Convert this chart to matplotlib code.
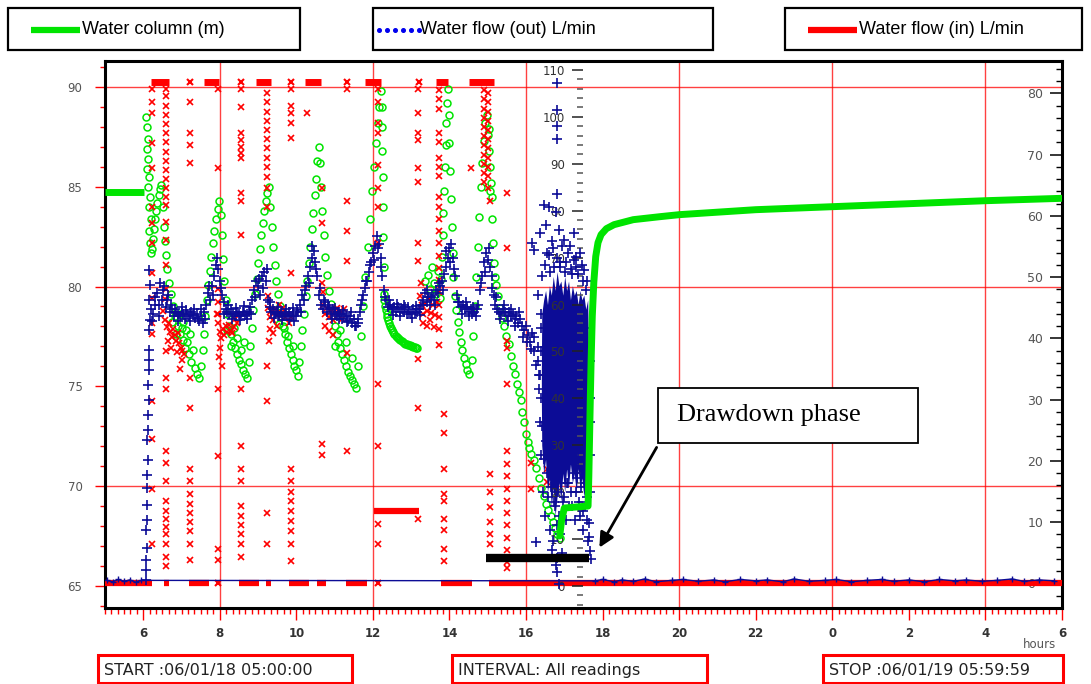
import matplotlib
matplotlib.use("Agg")
import matplotlib.pyplot as plt
from matplotlib.lines import Line2D
from matplotlib.patches import Rectangle, FancyArrowPatch
from matplotlib.ticker import MultipleLocator, FuncFormatter

# --- logger readings, 06/01/18 05:00 to 06/01/19 06:00 (hours since midnight) ---

# water column (m), left scale
wc_flat_h = [5.0, 6.02]
wc_flat_v = [84.75, 84.75]

wc_pts = [
    (6.08, 88.5), (6.10, 88.0), (6.12, 87.4), (6.10, 86.9), (6.13, 86.4), (6.09, 85.9), (6.15, 85.5),
    (6.12, 85.0), (6.17, 84.5), (6.14, 84.0), (6.19, 83.4), (6.16, 82.8), (6.18, 82.2), (6.20, 81.7),
    (6.22, 81.9), (6.25, 82.4), (6.28, 82.9), (6.31, 83.4), (6.34, 83.8), (6.37, 84.2), (6.40, 84.6),
    (6.43, 84.9), (6.46, 85.1), (6.52, 84.0), (6.55, 83.0), (6.57, 82.3), (6.60, 81.6), (6.63, 80.9),
    (6.67, 80.2), (6.72, 79.6), (6.78, 79.0), (6.84, 78.5), (6.90, 78.0), (6.95, 77.6), (7.00, 77.9),
    (7.05, 77.3), (7.10, 76.9), (7.15, 77.2), (7.20, 76.6), (7.25, 76.2), (7.30, 76.8), (7.35, 75.9),
    (7.40, 75.6), (7.45, 75.4), (6.75, 78.2), (6.85, 77.6), (6.95, 78.6), (7.05, 78.2), (7.12, 77.8),
    (7.22, 77.6), (7.50, 76.0), (7.55, 76.8), (7.58, 77.6), (7.62, 78.5), (7.66, 79.3), (7.70, 80.1),
    (7.74, 80.8), (7.78, 81.5), (7.82, 82.2), (7.86, 82.8), (7.90, 83.4), (7.94, 83.9), (7.97, 84.3),
    (8.02, 83.6), (8.05, 82.6), (8.08, 81.4), (8.12, 80.3), (8.16, 79.3), (8.20, 78.6), (8.25, 78.0),
    (8.30, 77.6), (8.35, 77.2), (8.40, 76.9), (8.45, 76.6), (8.50, 76.3), (8.55, 76.1), (8.60, 75.8),
    (8.65, 75.6), (8.70, 75.4), (8.28, 77.0), (8.38, 77.9), (8.45, 77.4), (8.55, 76.8), (8.62, 77.2),
    (8.18, 77.8), (8.75, 76.2), (8.80, 77.0), (8.84, 77.9), (8.88, 78.8), (8.92, 79.6), (8.96, 80.4),
    (9.00, 81.2), (9.04, 81.9), (9.08, 82.6), (9.12, 83.2), (9.16, 83.8), (9.20, 84.3), (9.24, 84.7),
    (9.28, 85.0), (9.32, 84.0), (9.36, 83.0), (9.40, 82.0), (9.44, 81.1), (9.48, 80.3), (9.52, 79.6),
    (9.56, 79.0), (9.60, 78.5), (9.65, 78.0), (9.70, 77.6), (9.75, 77.2), (9.80, 76.9), (9.85, 76.6),
    (9.90, 76.3), (9.95, 76.0), (10.00, 75.8), (10.04, 75.5), (9.55, 78.1), (9.68, 77.9), (9.78, 77.5),
    (9.90, 77.0), (10.08, 76.2), (10.12, 77.0), (10.16, 77.8), (10.20, 78.6), (10.24, 79.5), (10.28, 80.3),
    (10.32, 81.2), (10.36, 82.0), (10.40, 82.9), (10.44, 83.7), (10.48, 84.6), (10.52, 85.4), (10.55, 86.3),
    (10.58, 87.0), (10.62, 86.2), (10.65, 85.0), (10.68, 83.8), (10.72, 82.6), (10.76, 81.5), (10.80, 80.6),
    (10.85, 79.8), (10.90, 79.1), (10.95, 78.5), (11.00, 78.0), (11.05, 77.6), (11.10, 77.2), (11.15, 76.9),
    (11.20, 76.6), (11.25, 76.3), (11.30, 76.0), (11.35, 75.7), (11.40, 75.5), (11.45, 75.3), (11.50, 75.1),
    (11.55, 74.9), (11.00, 77.0), (11.15, 77.8), (11.30, 77.2), (11.45, 76.4), (11.62, 76.0), (11.68, 77.5),
    (11.74, 79.0), (11.80, 80.5), (11.86, 82.0), (11.92, 83.4), (11.98, 84.8), (12.03, 86.0), (12.08, 87.2),
    (12.12, 88.2), (12.16, 89.0), (12.20, 89.8), (12.23, 89.0), (12.24, 88.0), (12.25, 86.8), (12.26, 85.5),
    (12.27, 84.0), (12.27, 82.5), (12.28, 81.0),
    (12.28, 79.6), (12.30, 79.3), (12.32, 79.0), (12.34, 78.8), (12.36, 78.6), (12.38, 78.45), (12.40, 78.3),
    (12.42, 78.15), (12.45, 78.0), (12.47, 77.9), (12.50, 77.8), (12.53, 77.7), (12.56, 77.6), (12.59, 77.52),
    (12.62, 77.45), (12.65, 77.4), (12.68, 77.35), (12.71, 77.3), (12.75, 77.25), (12.78, 77.2), (12.82, 77.17),
    (12.85, 77.13), (12.89, 77.1), (12.92, 77.08), (12.96, 77.05), (12.99, 77.02), (13.03, 77.0), (13.06, 76.98),
    (13.10, 76.96), (13.13, 76.94), (13.16, 76.93),
    (13.35, 80.3), (13.45, 80.6), (13.50, 79.9), (13.55, 81.0), (13.60, 80.2), (13.65, 79.6), (13.70, 80.8),
    (13.75, 79.4), (13.78, 80.4), (13.80, 81.5), (13.82, 82.6), (13.84, 83.7), (13.86, 84.8), (13.88, 86.0),
    (13.90, 87.1), (13.92, 88.2), (13.94, 89.2), (13.96, 89.9), (13.98, 88.6), (14.00, 87.2), (14.02, 85.8),
    (14.04, 84.4), (14.06, 83.0), (14.08, 81.7), (14.10, 80.5), (14.14, 79.5), (14.18, 78.8), (14.22, 78.2),
    (14.26, 77.7), (14.30, 77.2), (14.34, 76.8), (14.38, 76.4), (14.42, 76.1), (14.46, 75.8), (14.50, 75.6),
    (14.58, 76.3), (14.62, 77.5), (14.66, 79.0), (14.70, 80.5), (14.74, 82.0), (14.78, 83.5), (14.82, 85.0),
    (14.86, 86.2), (14.90, 87.3), (14.94, 88.2), (14.98, 88.6), (15.00, 87.6), (15.02, 86.8), (15.04, 87.9),
    (15.06, 86.0), (15.08, 85.2), (15.10, 84.5), (15.05, 84.8), (15.12, 83.4), (15.14, 82.2), (15.16, 81.2),
    (15.18, 80.5), (15.21, 80.1), (15.26, 79.5), (15.31, 78.9), (15.36, 78.4), (15.42, 78.0), (15.48, 77.5),
    (15.55, 77.1), (15.60, 76.5), (15.65, 76.0), (15.70, 75.6), (15.76, 75.1), (15.81, 74.7), (15.86, 74.3),
    (15.90, 73.7), (15.94, 73.2), (15.99, 72.6), (16.04, 72.2), (16.09, 71.9), (16.14, 71.6), (16.20, 71.3),
    (16.26, 70.9), (16.33, 70.4), (16.40, 69.9), (16.46, 69.5), (16.52, 69.1), (16.58, 68.8), (16.64, 68.5),
    (16.70, 68.2), (16.76, 67.9), (16.82, 67.6), (16.88, 67.4),
]

# continuous record once the pump stops (recovery)
wc_recov_h = [16.88, 16.93, 17.00, 17.30, 17.62, 17.64, 17.66, 17.68, 17.70, 17.73, 17.77, 17.82,
              17.88, 17.96, 18.10, 18.30, 18.80, 19.50, 20.00, 22.00, 24.00, 26.00, 28.00, 30.00]
wc_recov_v = [67.5, 68.3, 68.9, 68.95, 69.0, 70.5, 72.5, 74.5, 76.3, 78.5, 80.2, 81.5,
              82.2, 82.6, 82.9, 83.1, 83.35, 83.5, 83.6, 83.85, 84.0, 84.15, 84.3, 84.42]

# water flow out (L/min), middle scale
fo_base = [
    (6.20, 59.0), (6.25, 58.0), (6.30, 60.0), (6.35, 62.5), (6.40, 60.0), (6.45, 64.5), (6.50, 61.0),
    (6.55, 64.0), (6.60, 59.5), (6.65, 62.0), (6.70, 58.5), (6.75, 59.0), (6.80, 57.5), (6.85, 58.5),
    (6.90, 58.0), (6.95, 57.5), (7.00, 58.5), (7.05, 58.0), (7.10, 57.0), (7.15, 58.0), (7.20, 57.5),
    (7.25, 58.5), (7.30, 57.8), (7.35, 57.2), (7.40, 58.0), (7.45, 56.5), (7.50, 57.5), (7.55, 56.0),
    (7.60, 58.5), (7.65, 60.0), (7.70, 62.5), (7.75, 61.0), (7.80, 64.0), (7.85, 66.0), (7.90, 68.5),
    (7.95, 67.5), (8.00, 65.0), (8.05, 62.0), (8.10, 60.5), (8.15, 59.0), (8.20, 58.5), (8.25, 58.0),
    (8.30, 59.0), (8.35, 58.0), (8.40, 57.5), (8.45, 58.5), (8.50, 58.0), (8.55, 57.5), (8.60, 58.5),
    (8.65, 57.8), (8.70, 57.0), (8.75, 58.5), (8.80, 59.5), (8.85, 61.0), (8.90, 63.0), (8.95, 65.0),
    (9.00, 64.0), (9.05, 62.0), (9.10, 66.0), (9.15, 67.0), (9.20, 65.0), (9.25, 61.0), (9.30, 59.5),
    (9.35, 58.5), (9.40, 59.0), (9.45, 58.0), (9.50, 58.5), (9.55, 57.5), (9.60, 58.2), (9.65, 57.5),
    (9.70, 58.0), (9.75, 57.5), (9.80, 58.3), (9.85, 57.5), (9.90, 58.0), (9.95, 56.5), (10.00, 57.5),
    (10.05, 58.5), (10.10, 60.0), (10.15, 62.0), (10.20, 61.0), (10.25, 64.0), (10.30, 66.0), (10.35, 68.0),
    (10.40, 70.0), (10.45, 71.5), (10.50, 69.0), (10.55, 66.0), (10.60, 62.0), (10.65, 60.0), (10.70, 59.0),
    (10.75, 60.5), (10.80, 58.5), (10.85, 59.5), (10.90, 58.0), (10.95, 59.0), (11.00, 58.0), (11.05, 57.5),
    (11.10, 58.5), (11.15, 58.0), (11.20, 57.0), (11.25, 58.0), (11.30, 57.5), (11.35, 56.5), (11.40, 57.5),
    (11.45, 56.0), (11.50, 57.0), (11.55, 55.5), (11.60, 57.0), (11.65, 58.5), (11.70, 60.0), (11.75, 62.0),
    (11.80, 63.5), (11.85, 65.0), (11.90, 67.0), (11.95, 69.0), (12.00, 71.0), (12.05, 72.5), (12.10, 74.5),
    (12.15, 73.0), (12.20, 70.0), (12.25, 66.0), (12.30, 63.0), (12.35, 61.0), (12.40, 59.5), (12.45, 60.0),
    (12.50, 59.0), (12.55, 59.5), (12.60, 58.5), (12.65, 59.5), (12.70, 58.5), (12.75, 59.0), (12.80, 58.5),
    (12.85, 59.5), (12.90, 58.0), (12.95, 58.5), (13.00, 58.0), (13.05, 59.0), (13.10, 58.2), (13.15, 58.5),
    (13.20, 59.0), (13.25, 60.0), (13.30, 61.0), (13.35, 62.5), (13.40, 60.5), (13.45, 61.5), (13.50, 60.0),
    (13.55, 62.0), (13.60, 61.0), (13.65, 63.0), (13.70, 62.5), (13.75, 64.0), (13.80, 65.0), (13.85, 66.5),
    (13.90, 68.0), (13.95, 70.0), (14.00, 72.0), (14.05, 73.0), (14.10, 70.0), (14.15, 66.0), (14.20, 62.0),
    (14.25, 60.5), (14.30, 59.5), (14.35, 60.0), (14.40, 59.0), (14.45, 59.5), (14.50, 58.5), (14.55, 59.0),
    (14.60, 58.0), (14.65, 58.5), (14.70, 57.5), (14.75, 60.0), (14.80, 63.0), (14.85, 66.0), (14.90, 69.0),
    (14.95, 71.0), (15.00, 69.5), (15.05, 68.0), (15.10, 66.0), (15.15, 62.0), (15.20, 60.0), (15.25, 59.0),
    (15.30, 58.5), (15.35, 58.0), (15.40, 59.0), (15.45, 58.5), (15.50, 57.5), (15.55, 58.5), (15.60, 57.5),
    (15.65, 58.0), (15.70, 57.0), (15.75, 57.5), (15.80, 56.0), (15.85, 57.0), (15.90, 55.5), (15.95, 54.5),
    (16.00, 55.5), (16.05, 53.5), (16.10, 52.0), (16.15, 54.0), (16.20, 50.0), (16.25, 47.0), (16.30, 51.0),
    (16.35, 45.0),
    (6.22, 56.5), (6.32, 61.5), (6.42, 57.5), (6.52, 63.0), (6.62, 61.0), (6.72, 60.0), (6.82, 59.0),
    (6.92, 56.5), (7.02, 59.5), (7.12, 58.8), (7.22, 56.5), (7.32, 59.0), (7.42, 57.0), (7.52, 59.0),
    (7.62, 57.0), (7.72, 64.0), (7.82, 62.0), (7.92, 70.0), (8.02, 63.5), (8.12, 58.0), (8.22, 59.8),
    (8.32, 57.0), (8.42, 59.2), (8.52, 56.8), (8.62, 59.6), (8.72, 58.0), (8.82, 58.0), (8.92, 61.5),
    (9.02, 65.5), (9.12, 63.5), (9.22, 67.5), (9.32, 60.5), (9.42, 57.2), (9.52, 59.5), (9.62, 56.8),
    (9.72, 59.0), (9.82, 56.8), (9.92, 59.2), (10.02, 58.8), (10.12, 58.5), (10.22, 63.0), (10.32, 64.5),
    (10.42, 72.5), (10.52, 67.5), (10.62, 63.5), (10.72, 61.0), (10.82, 60.0), (10.92, 57.0), (11.02, 59.2),
    (11.12, 57.0), (11.22, 58.8), (11.32, 56.2), (11.42, 58.5), (11.52, 55.5), (11.62, 56.0), (11.72, 61.0),
    (11.82, 65.0), (11.92, 68.5), (12.02, 69.5), (12.12, 72.0), (12.22, 68.0), (12.32, 61.5), (12.42, 61.0),
    (12.52, 57.8), (12.62, 60.2), (12.72, 57.6), (12.82, 60.0), (12.92, 59.5), (13.02, 57.2), (13.12, 59.6),
    (13.22, 57.8), (13.32, 59.8), (13.42, 63.0), (13.52, 61.5), (13.62, 59.8), (13.72, 64.5), (13.82, 63.0),
    (13.92, 71.5), (14.02, 69.0), (14.12, 67.5), (14.22, 60.5), (14.32, 58.0), (14.42, 60.5), (14.52, 57.5),
    (14.62, 59.5), (14.72, 59.0), (14.82, 64.5), (14.92, 67.0), (15.02, 72.0), (15.12, 63.5), (15.22, 61.5),
    (15.32, 57.0), (15.42, 60.0), (15.52, 56.5), (15.62, 59.0), (15.72, 55.5), (15.82, 58.5), (15.92, 53.0),
    (16.02, 52.0), (16.12, 50.5), (16.22, 53.0), (16.32, 48.0),
]

# pump start-up column
fo_start = [
    (6.06, 1.3), (6.08, 3.4), (6.07, 5.5), (6.09, 8.1), (6.08, 11.9), (6.10, 14.1), (6.09, 17.3),
    (6.11, 20.9), (6.10, 23.7), (6.12, 26.9), (6.11, 31.1), (6.13, 33.3), (6.12, 36.5), (6.14, 39.7),
    (6.13, 42.9), (6.15, 46.0), (6.14, 48.2), (6.16, 50.3), (6.15, 54.6), (6.17, 56.7), (6.16, 61.0),
    (6.18, 64.2), (6.15, 67.4),
]

# drawdown pumping: dense band plus the readings around it
fo_band_h = [16.40, 16.41, 16.46, 16.51, 16.56, 16.61, 16.66, 16.71, 16.76, 16.81, 16.86, 16.91, 16.96, 17.01,
             17.06, 17.11, 17.16, 17.21, 17.26, 17.31, 17.36, 17.41, 17.46, 17.51, 17.56, 17.61, 17.63]
fo_band_hi = [46, 58, 61, 63, 60, 64, 62, 66, 63, 67, 64, 65, 62, 66,
              63, 65, 61, 64, 62, 63, 60, 63, 61, 62, 59, 61, 50]
fo_band_lo = [40, 30, 24, 27, 20, 23, 17, 21, 15, 19, 22, 18, 24, 20,
              25, 21, 26, 22, 24, 20, 25, 21, 23, 19, 22, 26, 32]

fo_drawdown = [
    (16.42, 66.0), (16.46, 81.2), (16.50, 68.5), (16.52, 77.0), (16.55, 71.0), (16.59, 80.8), (16.60, 70.5),
    (16.63, 67.0), (16.67, 73.5), (16.70, 72.0), (16.73, 68.0), (16.77, 79.7), (16.80, 83.6), (16.80, 95.3),
    (16.80, 98.1), (16.80, 101.5), (16.80, 107.2), (16.82, 70.0), (16.85, 75.9), (16.88, 69.0), (16.90, 68.0),
    (16.93, 72.5), (16.98, 73.8), (17.02, 67.0), (17.05, 69.0), (17.10, 71.0), (17.15, 72.5), (17.18, 67.5),
    (17.20, 66.5), (17.24, 69.5), (17.26, 75.3), (17.30, 68.0), (17.31, 70.1), (17.36, 66.5), (17.40, 71.0),
    (17.45, 68.5), (17.50, 65.0), (17.52, 67.4), (17.56, 63.0), (17.60, 65.0), (16.15, 73.1), (16.20, 71.6),
    (16.36, 75.3), (16.30, 62.0), (16.38, 58.0),
    (16.38, 40.0), (16.36, 35.0), (16.40, 28.0), (16.33, 42.0), (16.38, 50.0), (16.37, 45.0), (16.39, 55.0),
    (17.66, 55.0), (17.67, 48.0), (17.66, 40.0), (17.68, 35.0), (17.66, 28.0), (17.67, 20.0),
    (16.42, 34.0), (16.45, 20.0), (16.47, 27.0), (16.50, 15.0), (16.52, 31.0), (16.55, 24.0), (16.57, 19.0),
    (16.60, 29.0), (16.62, 12.0), (16.65, 21.0), (16.68, 26.0), (16.70, 9.5), (16.72, 18.0), (16.75, 17.0),
    (16.77, 23.0), (16.78, 4.5), (16.80, 6.0), (16.80, 13.0), (16.82, 3.0), (16.83, 20.0), (16.85, 0.5),
    (16.87, 15.0), (16.90, 11.0), (16.92, 24.0), (16.95, 7.0), (16.97, 18.0), (17.00, 19.0), (17.02, 25.0),
    (17.05, 14.0), (17.08, 22.0), (17.10, 22.0), (17.12, 17.0), (17.15, 28.0), (17.18, 20.0), (17.20, 17.0),
    (17.23, 24.0), (17.25, 26.0), (17.28, 14.0), (17.30, 20.0), (17.33, 23.0), (17.35, 27.0), (17.38, 18.0),
    (17.40, 15.0), (17.43, 21.0), (17.45, 24.0), (17.48, 16.0), (17.50, 12.0), (17.53, 22.0), (17.55, 17.0),
    (17.58, 19.0), (17.60, 14.0), (17.62, 9.5), (17.64, 13.4), (17.64, 10.4), (17.66, 7.5), (17.69, 5.8),
    (16.25, 9.4), (16.67, 7.7),
]

# pump idle readings near zero
fo_idle = [
    (5.05, 1.2), (5.20, 0.9), (5.35, 1.4), (5.50, 1.0), (5.65, 1.3), (5.80, 0.8), (5.95, 1.2),
    (17.80, 1.1), (18.00, 1.4), (18.30, 0.9), (18.50, 1.3), (18.80, 1.0), (19.10, 1.5), (19.40, 0.9),
    (19.80, 1.2), (20.10, 1.4), (20.50, 1.0), (20.90, 1.3), (21.20, 0.9), (21.60, 1.4), (22.00, 1.1),
    (22.30, 1.3), (22.70, 0.9), (23.00, 1.5), (23.40, 1.0), (23.80, 1.2), (24.10, 1.4), (24.50, 0.9),
    (24.90, 1.2), (25.30, 1.4), (25.60, 1.0), (26.00, 1.3), (26.40, 0.9), (26.80, 1.4), (27.20, 1.1),
    (27.50, 1.3), (27.90, 1.0), (28.30, 1.2), (28.70, 1.5), (29.00, 1.0), (29.40, 1.3), (29.80, 1.1),
]

# water flow in (L/min), right scale
fi_on_level = 81.8
fi_on_runs = [(6.20, 6.67), (7.60, 7.98), (8.94, 9.33), (10.22, 10.64), (11.79, 12.20), (13.64, 13.96), (14.50, 15.15)]
fi_on_single = [7.22, 8.55, 9.86, 11.32, 13.20]
fi_off_runs = [(5.0, 6.23), (6.54, 6.67), (7.20, 7.72), (8.50, 9.02), (9.20, 9.33), (9.80, 10.33),
               (10.54, 10.77), (11.29, 11.84), (13.77, 14.58), (15.03, 30.0)]
fi_off_single = [7.95, 12.12]
fi_mid_run = (12.02, 13.20)
fi_mid_level = 11.8

fi_columns = [
    (6.23, [80.7, 78.6, 76.8, 71.9, 67.8, 61.4, 58.8, 55.6, 50.6, 46.6, 42.5, 40.7, 29.8, 23.6, 15.4, 6.5]),
    (6.60, [80.7, 79.5, 78.0, 76.5, 75.0, 73.5, 72.0, 70.5, 69.0, 67.5, 66.0, 64.5, 63.0, 61.7, 59.0, 56.0,
            52.0, 48.0, 38.0, 33.6, 31.8, 21.6, 19.6, 16.7, 13.4, 11.8, 10.5, 9.2, 8.0, 6.4, 4.4, 2.8]),
    (7.22, [78.6, 73.6, 71.5, 68.7, 33.6, 28.6, 18.7, 16.7, 14.6, 13.0, 11.5, 10.0, 8.5, 6.4, 3.9]),
    (7.95, [80.7, 67.8, 48.0, 46.0, 44.0, 31.8, 20.8, 5.6, 3.9]),
    (8.56, [80.7, 77.7, 73.6, 72.3, 71.2, 70.2, 69.4, 63.8, 62.5, 56.8, 31.8, 22.4, 18.7, 16.7, 12.6, 11.0,
            9.5, 8.0, 6.4, 4.4]),
    (9.23, [80.0, 78.5, 77.0, 75.5, 74.0, 72.5, 71.0, 69.5, 68.0, 66.3, 64.6, 61.4, 35.5, 29.8, 11.5, 6.5]),
    (9.87, [80.7, 78.0, 76.8, 75.2, 72.7, 50.6, 18.7, 16.7, 15.0, 13.4, 11.8, 10.2, 8.5, 6.4, 3.6]),
    (10.27, [76.8]),
    (10.66, [64.6, 58.8, 22.7, 21.0]),
    (11.32, [80.7, 62.5, 57.6, 52.7, 37.6, 21.6]),
    (12.13, [80.7, 78.6, 75.2, 73.6, 68.3, 64.6, 61.4, 55.6, 32.6, 22.4, 9.7, 6.5]),
    (13.17, [80.7, 76.8, 73.6, 72.3, 67.8, 65.5, 55.6, 52.7, 36.7, 28.6, 10.6]),
    (13.72, [80.5, 79.0, 77.5, 73.5, 72.0, 69.5, 68.0, 66.5, 63.0, 61.5, 59.5, 57.5, 55.5, 53.5, 51.5, 49.5,
             47.5, 45.5, 43.5, 41.5, 39.0]),
    (13.85, [27.7, 24.5, 18.7, 14.6, 13.4, 10.6, 8.8, 5.6, 3.6]),
    (14.90, [80.5, 79.0, 77.5, 76.0, 74.5, 73.0, 71.5, 70.0, 68.5, 67.0, 65.5]),
    (15.00, [80.0, 78.5, 77.0, 75.5, 74.0, 72.5, 71.0, 69.5, 68.0, 66.5, 64.6]),
    (15.06, [62.5, 17.8, 15.0, 12.5, 10.0, 8.0, 6.4]),
    (15.50, [63.7, 54.7, 39.6, 38.5, 32.6, 21.6, 19.5, 17.5, 15.5, 13.5, 11.5, 9.5, 7.5, 5.5, 3.5, 2.5]),
    (14.55, [67.8]),
    (16.12, [19.6, 15.5]),
    (16.54, [18.7, 16.5]),
]

fi_clusters = [
    (6.52, 44.5), (6.58, 43.0), (6.62, 41.8), (6.66, 42.5), (6.70, 41.0), (6.74, 40.2), (6.78, 41.5),
    (6.82, 40.5), (6.86, 39.5), (6.90, 40.8), (6.94, 39.2), (6.98, 38.5), (7.02, 38.0), (7.06, 37.5),
    (6.64, 39.5), (6.72, 38.5), (6.88, 37.8), (6.56, 46.5), (7.00, 36.5), (6.95, 35.0),
    (7.92, 44.0), (7.96, 42.5), (8.00, 41.0), (8.04, 40.0), (8.08, 41.5), (8.12, 40.5), (8.16, 42.0),
    (8.20, 41.0), (8.24, 42.2), (8.28, 41.2), (8.32, 40.8), (8.36, 41.8), (8.40, 43.2), (8.44, 42.5),
    (8.00, 38.5), (7.98, 37.0), (8.05, 35.5),
    (9.25, 45.0), (9.30, 43.5), (9.35, 44.5), (9.40, 43.0), (9.45, 44.8), (9.50, 43.8), (9.55, 45.5),
    (9.60, 44.2), (9.65, 45.0), (9.70, 43.5), (9.75, 44.0), (9.80, 42.5), (9.85, 43.5), (9.30, 41.5),
    (9.40, 40.8), (9.50, 42.0), (9.28, 39.5), (9.25, 47.0),
    (10.70, 45.5), (10.75, 44.0), (10.80, 45.0), (10.85, 43.5), (10.90, 44.5), (10.95, 43.0), (11.00, 44.2),
    (11.05, 45.0), (11.10, 43.8), (11.15, 44.5), (11.20, 43.2), (11.25, 44.8), (10.75, 42.0), (10.85, 41.2),
    (10.95, 40.5), (10.70, 47.5), (10.68, 49.0),
    (13.22, 47.0), (13.27, 45.5), (13.32, 44.0), (13.37, 45.8), (13.42, 44.5), (13.47, 46.5), (13.52, 44.2),
    (13.57, 45.5), (13.62, 43.8), (13.67, 46.0), (13.30, 42.5), (13.40, 42.0), (13.50, 43.0), (13.60, 41.8),
    (13.25, 49.0),
]

# drawdown phase marker (left scale)
drawdown_h = [14.95, 17.64]
drawdown_level = 66.4

grid_hours = [8, 12, 16, 20, 24, 28]
grid_levels = [70, 80, 90]

GREEN = "#00e400"
BLUE = "#0c0c96"
RED = "#ff0000"

fig = plt.figure(figsize=(10.91, 6.84), dpi=100)
pos = [0.0962, 0.1111, 0.8772, 0.7997]

ax = fig.add_axes(pos)
ax.set_zorder(1)
ax.set_xlim(5, 30)
ax.set_ylim(63.89, 91.3)

ax_in = ax.twinx()
ax_in.set_zorder(2)

ax_out = ax.twinx()
ax_out.set_zorder(3)

ax_top = fig.add_axes(pos, sharex=ax, sharey=ax)
ax_top.set_zorder(4)
ax_top.patch.set_visible(False)
ax_top.set_axis_off()

# grid
for h in grid_hours:
    ax.axvline(h, color=RED, lw=1, alpha=0.75, zorder=0)
for lv in grid_levels:
    ax.axhline(lv, color=RED, lw=1, alpha=0.75, zorder=0)

# water column readings
ax.plot([p[0] for p in wc_pts], [p[1] for p in wc_pts], "o", ms=5, mfc="none", mec=GREEN, mew=1.1)

# flow in
for h, vals in fi_columns:
    ax_in.plot([h] * len(vals), vals, "x", ms=4, color=RED, mew=1.2)
ax_in.plot([p[0] for p in fi_clusters], [p[1] for p in fi_clusters], "x", ms=4, color=RED, mew=1.2)
for a, b in fi_on_runs:
    ax_in.plot([a, b], [fi_on_level, fi_on_level], color=RED, lw=5, solid_capstyle="butt")
for a, b in fi_off_runs:
    ax_in.plot([a, b], [0, 0], color=RED, lw=4.5, solid_capstyle="butt")
ax_in.plot(fi_on_single, [fi_on_level] * len(fi_on_single), "x", ms=5, color=RED, mew=1.5)
ax_in.plot(fi_off_single, [0] * len(fi_off_single), "x", ms=5, color=RED, mew=1.5)
ax_in.plot(fi_mid_run, [fi_mid_level, fi_mid_level], color=RED, lw=4.5, solid_capstyle="butt")

# flow out
ax_out.fill_between(fo_band_h, fo_band_lo, fo_band_hi, color=BLUE, lw=0)
for pts in (fo_base, fo_start, fo_drawdown):
    ax_out.plot([p[0] for p in pts], [p[1] for p in pts], "+", ms=7, color=BLUE, mew=1.2)
ax_out.plot([p[0] for p in fo_idle], [p[1] for p in fo_idle], "-+", ms=4, lw=1, color=BLUE, mew=1)

# continuous water column + drawdown marker on top
ax_top.plot(wc_flat_h, wc_flat_v, color=GREEN, lw=5, solid_capstyle="butt")
ax_top.plot(wc_recov_h, wc_recov_v, color=GREEN, lw=5, solid_capstyle="round")
ax_top.plot(drawdown_h, [drawdown_level] * 2, color="black", lw=6, solid_capstyle="butt")

# frame
for sp in ax.spines.values():
    sp.set_linewidth(2.2)
    sp.set_color("black")
for a in (ax_in, ax_out):
    for sp in a.spines.values():
        sp.set_visible(False)

# x axis
ax.xaxis.set_major_locator(MultipleLocator(2))
ax.xaxis.set_minor_locator(MultipleLocator(1 / 6))
ax.xaxis.set_major_formatter(FuncFormatter(lambda h, p: f"{int(round(h)) % 24}"))
ax.tick_params(axis="x", which="major", length=8.6, width=1, color=RED, pad=5,
               labelsize=8.5, labelcolor="#333333")
ax.tick_params(axis="x", which="minor", length=4.3, width=1, color=RED)
for t in ax.get_xticklabels():
    t.set_fontweight("bold")

# left axis: water column
ax.yaxis.set_major_locator(MultipleLocator(5))
ax.yaxis.set_minor_locator(MultipleLocator(1))
ax.tick_params(axis="y", which="major", length=7.2, width=1, color=RED, pad=9,
               labelsize=8.5, labelcolor="#555555")
ax.tick_params(axis="y", which="minor", length=3.6, width=1, color=RED)

# right axis: flow in, labels inside the frame
ax_in.set_yticks(range(0, 90, 10))
ax_in.yaxis.set_minor_locator(MultipleLocator(2))
ax_in.tick_params(axis="y", which="major", direction="in", length=8.5, width=1.1, color="black",
                  pad=-25, labelsize=9, labelcolor="#555555")
ax_in.tick_params(axis="y", which="minor", direction="in", length=4, width=1, color="black")
ax_in.set_ylim(-4.0, 85.27)

# middle axis: flow out
ax_out.yaxis.set_ticks_position("left")
ax_out.yaxis.set_label_position("left")
ax_out.spines["left"].set_position(("axes", 0.4995))
ax_out.set_yticks(range(0, 120, 10))
ax_out.yaxis.set_minor_locator(MultipleLocator(2))
ax_out.tick_params(axis="y", which="major", direction="out", length=8, width=1.1, color="#222222",
                   pad=5, labelsize=8.5, labelcolor="#333333")
ax_out.tick_params(axis="y", which="minor", direction="out", length=4.3, width=1.1, color="#555555")
ax_out.set_ylim(-4.69, 111.9)

fig.text(1040 / 1091, 1 - 645 / 684, "hours", fontsize=8.5, color="#555555", ha="center", va="center")

# legend boxes along the top
legend_boxes = [
    (8, 300, "Water column (m)", "line", GREEN, 74),
    (373, 713, "Water flow (out) L/min", "dots", "#0000ee", 47),
    (785, 1082, "Water flow (in) L/min", "line", RED, 74),
]
W, H = 1091.0, 684.0
for x0, x1, label, kind, col, text_dx in legend_boxes:
    fig.add_artist(Rectangle((x0 / W, 1 - 50 / H), (x1 - x0) / W, 42 / H, transform=fig.transFigure,
                             fill=False, edgecolor="black", lw=1.6))
    ys = 1 - 30 / H
    if kind == "line":
        fig.add_artist(Line2D([(x0 + 23) / W, (x0 + 72) / W], [ys, ys], transform=fig.transFigure,
                              color=col, lw=4.5, solid_capstyle="butt"))
    else:
        fig.add_artist(Line2D([(x0 + 6 + 8 * k) / W for k in range(6)], [ys] * 6, transform=fig.transFigure,
                              color=col, lw=0, marker="o", ms=2.6))
    fig.text((x0 + text_dx) / W, ys, label, fontsize=13, family="Liberation Sans", color="black",
             ha="left", va="center")

# info boxes along the bottom
info_boxes = [
    (98, 352, "START :06/01/18 05:00:00"),
    (452, 707, "INTERVAL: All readings"),
    (823, 1063, "STOP :06/01/19 05:59:59"),
]
for x0, x1, label in info_boxes:
    fig.add_artist(Rectangle((x0 / W, 1 - 683 / H), (x1 - x0) / W, 28 / H, transform=fig.transFigure,
                             fill=False, edgecolor=RED, lw=2.2))
    fig.text((x0 + 6) / W, 1 - 670 / H, label, fontsize=11.5, color="#222222", ha="left", va="center")

# drawdown callout
fig.add_artist(Rectangle((658 / W, 1 - 443 / H), 260 / W, 55 / H, transform=fig.transFigure,
                         facecolor="white", edgecolor="black", lw=1.3, zorder=5))
fig.text(677 / W, 1 - 415 / H, "Drawdown phase", fontsize=19, family="Liberation Serif",
         ha="left", va="center", zorder=6)
fig.add_artist(FancyArrowPatch((658 / W, 1 - 445 / H), (598 / W, 1 - 550 / H), transform=fig.transFigure,
                               arrowstyle="-|>", mutation_scale=22, lw=2, color="black", zorder=6))

fig.savefig("out.png", dpi=100)
